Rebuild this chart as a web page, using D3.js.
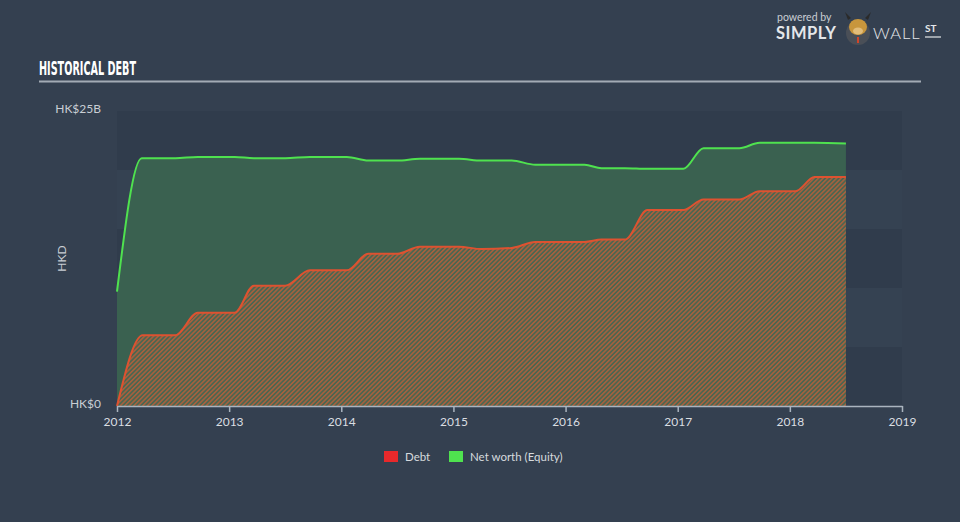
<!DOCTYPE html>
<html><head><meta charset="utf-8">
<script src="https://cdn.jsdelivr.net/npm/d3@7"></script>
<style>
html,body{margin:0;padding:0;background:#344050;}
svg{display:block;}
</style></head>
<body>
<svg id="chart" width="960" height="522"></svg>
<script>
const debtDates  = [2012.0,2012.23,2012.52,2012.72,2013.05,2013.22,2013.5,2013.72,2014.05,2014.24,2014.5,2014.7,2015.05,2015.25,2015.52,2015.73,2016.17,2016.32,2016.53,2016.73,2017.05,2017.23,2017.55,2017.73,2018.05,2018.22,2018.5];
const debtValues = [0,6.0,6.0,7.9,7.9,10.2,10.2,11.5,11.5,12.9,12.9,13.5,13.5,13.3,13.4,13.9,13.9,14.1,14.1,16.6,16.6,17.5,17.5,18.2,18.2,19.4,19.4];
const equityDates  = [2012.0,2012.22,2012.52,2012.72,2013.05,2013.22,2013.5,2013.72,2014.05,2014.24,2014.5,2014.7,2015.05,2015.25,2015.52,2015.73,2016.17,2016.32,2016.53,2016.73,2017.05,2017.23,2017.55,2017.73,2018.05,2018.22,2018.5];
const equityValues = [9.7,21.0,21.0,21.1,21.1,21.0,21.0,21.1,21.1,20.8,20.8,20.95,20.95,20.8,20.8,20.45,20.45,20.15,20.15,20.1,20.1,21.85,21.85,22.3,22.3,22.3,22.25];
const xTicks = [2012,2013,2014,2015,2016,2017,2018,2019];
const yTickLabels = ["HK$0","HK$25B"];
const yTickValues = [0,25];
const legendItems = ["Debt","Net worth (Equity)"];
const legendColors = ["#e8292b","#4fe24f"];

const svg = d3.select("#chart");
const W = 960, H = 522;
const m = {left:117, right:58, top:111, bottom:116};
const x = d3.scaleLinear().domain([2012,2019]).range([m.left, W - m.right]);
const y = d3.scaleLinear().domain([0,25]).range([H - m.bottom, m.top]);

// background
svg.append("rect").attr("width",W).attr("height",H).attr("fill","#344050");

// plot bands
const bandEdges = d3.range(0,26,5);
for (let i=0;i<5;i++){
  svg.append("rect")
    .attr("x", x(2012)).attr("width", x(2019)-x(2012))
    .attr("y", y(bandEdges[i+1])).attr("height", y(bandEdges[i]) - y(bandEdges[i+1]))
    .attr("fill", i%2===0 ? "#303c4c" : "#354252");
}

// title
svg.append("text").attr("x",39).attr("y",75)
  .attr("font-family","'DejaVu Sans Condensed','Liberation Sans Narrow',sans-serif")
  .attr("font-weight","bold").attr("font-size",20).attr("fill","#ffffff")
  .attr("textLength",97).attr("lengthAdjust","spacingAndGlyphs").text("HISTORICAL DEBT");
svg.append("line").attr("x1",39).attr("x2",921).attr("y1",81.5).attr("y2",81.5)
  .attr("stroke","#a3abb5").attr("stroke-width",2);

// logo
const logo = svg.append("g");
logo.append("text").attr("x",777).attr("y",21).attr("font-family","Lato,'Open Sans',sans-serif")
  .attr("font-size",10.5).attr("fill","#c9ced4").text("powered by");
logo.append("text").attr("x",776).attr("y",39).attr("font-family","Lato,'Open Sans',sans-serif")
  .attr("font-weight","bold").attr("font-size",16.5).attr("fill","#e4e7ea").attr("letter-spacing","0.5").text("SIMPLY");
logo.append("circle").attr("cx",858).attr("cy",33).attr("r",12).attr("fill","#4a4f57");
logo.append("ellipse").attr("cx",858).attr("cy",27).attr("rx",9).attr("ry",8).attr("fill","#c8963c");
logo.append("path").attr("d","M848,20 L845,12 L851,18 Z M868,20 L871,12 L865,18 Z").attr("fill","#2a2a2a");
logo.append("ellipse").attr("cx",858).attr("cy",31).attr("rx",5).attr("ry",3.5).attr("fill","#e2bd7a");
logo.append("rect").attr("x",857).attr("y",37).attr("width",2).attr("height",6).attr("fill","#d0452a");
logo.append("text").attr("x",873).attr("y",39).attr("font-family","Lato,'Open Sans',sans-serif")
  .attr("font-weight","300").attr("font-size",16.5).attr("fill","#e4e7ea").attr("letter-spacing","1").text("WALL");
logo.append("text").attr("x",925).attr("y",32).attr("font-family","Lato,'Open Sans',sans-serif")
  .attr("font-weight","bold").attr("font-size",10).attr("fill","#e4e7ea").text("ST");
logo.append("line").attr("x1",925).attr("x2",941).attr("y1",37).attr("y2",37).attr("stroke","#e4e7ea").attr("stroke-width",1.2);

// hatch pattern
const defs = svg.append("defs");
const pat = defs.append("pattern").attr("id","hatch").attr("patternUnits","userSpaceOnUse")
  .attr("width",3.2).attr("height",3.2).attr("patternTransform","rotate(45)");
pat.append("rect").attr("width",3.2).attr("height",3.2).attr("fill","#4b6650");
pat.append("rect").attr("width",1.5).attr("height",3.2).attr("fill","#a9603e");

const equity = equityDates.map((d,i)=>({d, v:equityValues[i]}));
const debt = debtDates.map((d,i)=>({d, v:debtValues[i]}));
const curve = d3.curveMonotoneX;

const area = d3.area().x(p=>x(p.d)).y0(y(0)).y1(p=>y(p.v)).curve(curve);
const line = d3.line().x(p=>x(p.d)).y(p=>y(p.v)).curve(curve);

svg.append("path").datum(equity).attr("d",area).attr("fill","#3a6150");
svg.append("path").datum(debt).attr("d",area).attr("fill","url(#hatch)");
svg.append("path").datum(equity).attr("d",line).attr("fill","none").attr("stroke","#4fe24f").attr("stroke-width",2);
svg.append("path").datum(debt).attr("d",line).attr("fill","none").attr("stroke","#de5230").attr("stroke-width",2);

// x axis
const xAxis = d3.axisBottom(x).tickValues(xTicks).tickFormat(d3.format("d")).tickSize(6).tickSizeOuter(0);
const gx = svg.append("g").attr("transform",`translate(0,${y(0)})`).call(xAxis);
gx.select(".domain").attr("stroke","#aab4bf").attr("stroke-width",1.5);
gx.selectAll(".tick line").attr("stroke","#aab4bf").attr("stroke-width",1.5);
gx.selectAll(".tick text").attr("fill","#dadee2").attr("font-size",12)
  .attr("font-family","Lato,'Open Sans',sans-serif").attr("dy","0.95em");

// y labels
yTickValues.forEach((v,i)=>{
  svg.append("text").attr("x",101).attr("y",y(v)+ (v===0?2:0)).attr("text-anchor","end")
    .attr("dominant-baseline", v===0 ? "auto" : "hanging")
    .attr("font-family","Lato,'Open Sans',sans-serif").attr("font-size",12).attr("fill","#c9ced4")
    .attr("transform", v===0 ? null : "translate(0,-8)")
    .text(yTickLabels[i]);
});
svg.append("text").attr("transform",`translate(66,${(y(0)+y(25))/2}) rotate(-90)`)
  .attr("text-anchor","middle").attr("font-family","Lato,'Open Sans',sans-serif")
  .attr("font-size",12).attr("fill","#c9ced4").text("HKD");

// legend
const lx = [384, 449];
legendItems.forEach((t,i)=>{
  svg.append("rect").attr("x",lx[i]).attr("y",451).attr("width",14).attr("height",11).attr("fill",legendColors[i]);
  svg.append("text").attr("x",lx[i]+21).attr("y",461).attr("font-family","Lato,'Open Sans',sans-serif")
    .attr("font-size",11.5).attr("fill","#d6dade").text(t);
});
</script>
</body></html>
